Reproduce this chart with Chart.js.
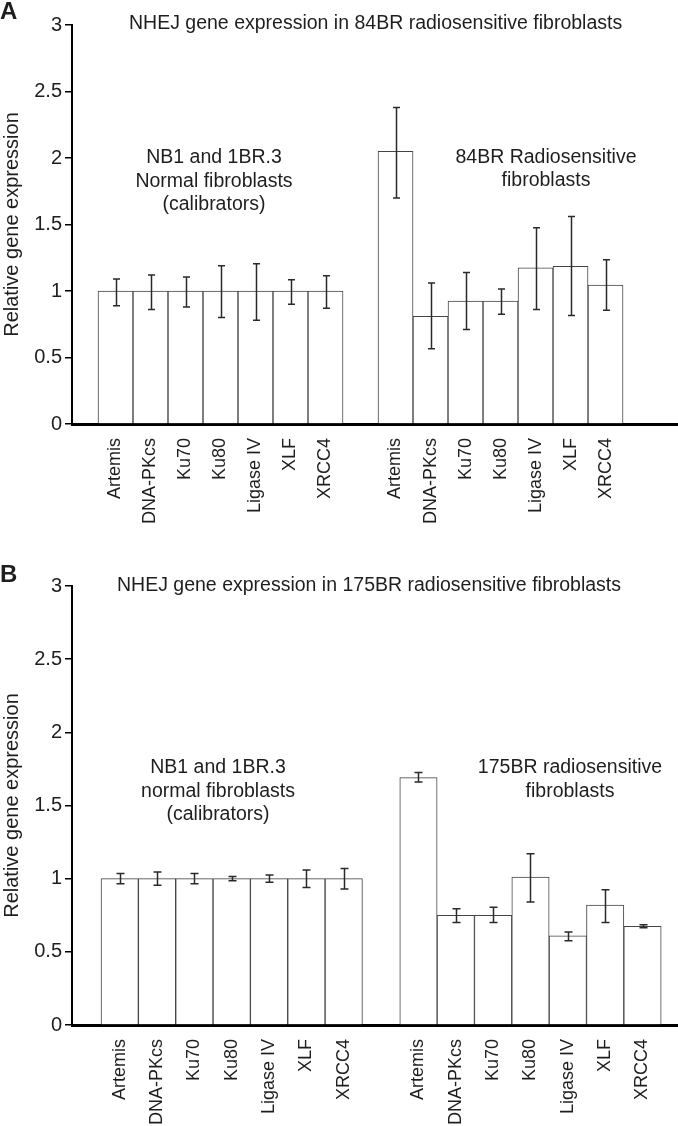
<!DOCTYPE html>
<html><head><meta charset="utf-8">
<script src="https://cdn.jsdelivr.net/npm/chart.js@4/dist/chart.umd.min.js"></script>
<style>
html,body{margin:0;padding:0;background:#fff;}
#wrap{position:relative;width:678px;height:1126px;overflow:hidden;}
.panel{position:absolute;left:0;width:678px;}
</style></head><body>
<div id="wrap">
<div class="panel" style="top:0;height:560px"><canvas id="ca"></canvas></div>
<div class="panel" style="top:560px;height:566px"><canvas id="cb"></canvas></div>
</div>
<script>
// ---- data ----
const genes = ['Artemis','DNA-PKcs','Ku70','Ku80','Ligase IV','XLF','XRCC4'];
const yTicks = [0, 0.5, 1, 1.5, 2, 2.5, 3];

// Panel A: 84BR
const aNormal     = [1, 1, 1, 1, 1, 1, 1];
const aNormalLow  = [0.89, 0.86, 0.88, 0.80, 0.78, 0.90, 0.87];
const aNormalHigh = [1.09, 1.12, 1.105, 1.19, 1.205, 1.085, 1.115];
const aSens       = [2.05, 0.81, 0.925, 0.925, 1.175, 1.185, 1.045];
const aSensLow    = [1.70, 0.565, 0.71, 0.825, 0.86, 0.815, 0.855];
const aSensHigh   = [2.38, 1.06, 1.14, 1.015, 1.475, 1.56, 1.235];

// Panel B: 175BR
const bNormal     = [1, 1, 1, 1, 1, 1, 1];
const bNormalLow  = [0.965, 0.955, 0.965, 0.985, 0.975, 0.94, 0.93];
const bNormalHigh = [1.035, 1.045, 1.035, 1.015, 1.025, 1.06, 1.07];
const bSens       = [1.69, 0.75, 0.75, 1.01, 0.61, 0.82, 0.675];
const bSensLow    = [1.66, 0.70, 0.70, 0.84, 0.575, 0.70, 0.665];
const bSensHigh   = [1.725, 0.795, 0.805, 1.17, 0.635, 0.925, 0.685];

// ---- helpers ----
const FONT = "'Liberation Sans', Arial, Helvetica, sans-serif";
const TXT = '#1e1e1e';
const gap = genes.length + 1;
const positions = genes.map((g, i) => i).concat(genes.map((g, i) => i + gap));
function labelFor(v) {
  const r = Math.round(v);
  if (r >= 0 && r < genes.length) return genes[r];
  if (r >= gap && r < gap + genes.length) return genes[r - gap];
  return '';
}

const errPlugin = {
  id: 'errBars',
  afterDatasetsDraw(chart, args, opts) {
    const ctx = chart.ctx, y = chart.scales.y;
    const meta = chart.getDatasetMeta(0);
    ctx.save();
    ctx.strokeStyle = opts.color; ctx.lineWidth = opts.width;
    meta.data.forEach((bar, i) => {
      const lo = y.getPixelForValue(opts.low[i]), hi = y.getPixelForValue(opts.high[i]);
      const x = Math.round(bar.x) + 0.5, c = opts.cap;
      ctx.beginPath();
      ctx.moveTo(x, lo); ctx.lineTo(x, hi);
      ctx.moveTo(x - c, lo); ctx.lineTo(x + c, lo);
      ctx.moveTo(x - c, hi); ctx.lineTo(x + c, hi);
      ctx.stroke();
    });
    ctx.restore();
  }
};

const textPlugin = {
  id: 'panelText',
  afterDraw(chart, args, opts) {
    const ctx = chart.ctx;
    ctx.save();
    ctx.fillStyle = TXT;
    for (const t of opts.items) {
      ctx.font = t.font;
      ctx.textAlign = t.align || 'center';
      ctx.textBaseline = t.baseline || 'middle';
      t.lines.forEach((ln, i) => ctx.fillText(ln, t.x, t.y + i * (t.lh || 0)));
    }
    ctx.restore();
  }
};

function makePanel(id, p) {
  const data = p.normal.map((v, i) => ({x: i, y: v}))
    .concat(p.sens.map((v, i) => ({x: i + gap, y: v})));
  const low = p.normalLow.concat(p.sensLow);
  const high = p.normalHigh.concat(p.sensHigh);
  new Chart(document.getElementById(id), {
    type: 'bar',
    data: {
      datasets: [{
        data: data,
        backgroundColor: '#ffffff',
        borderColor: '#444444',
        borderWidth: 1,
        barPercentage: 1,
        categoryPercentage: 1
      }]
    },
    options: {
      responsive: true,
      maintainAspectRatio: false,
      animation: false,
      devicePixelRatio: 1,
      layout: {padding: {top: p.top, left: 0, right: 0, bottom: 0}},
      plugins: {
        legend: {display: false},
        tooltip: {enabled: false},
        errBars: {low: low, high: high, color: '#2a2a2a', width: 1.5, cap: p.cap},
        panelText: {items: p.texts}
      },
      scales: {
        x: {
          type: 'linear',
          min: p.xmin, max: p.xmax, bounds: 'data', offset: false,
          afterBuildTicks: s => { s.ticks = positions.map(v => ({value: v})); },
          afterFit: s => { s.height = p.xh; },
          ticks: {
            autoSkip: false, minRotation: 90, maxRotation: 90, padding: 6,
            color: TXT, font: {family: FONT, size: 18},
            callback: v => labelFor(v)
          },
          grid: {display: false},
          border: {display: true, color: '#000', width: 3}
        },
        y: {
          min: 0, max: 3,
          afterBuildTicks: s => { s.ticks = yTicks.map(v => ({value: v})); },
          afterFit: s => { s.width = 72; },
          ticks: {color: TXT, font: {family: FONT, size: 20}, padding: 3, callback: v => String(v)},
          grid: {drawOnChartArea: false, drawTicks: true, tickLength: 7, color: '#000', lineWidth: 1.5},
          border: {display: true, color: '#000', width: 2},
          title: {display: true, text: 'Relative gene expression', color: TXT,
                  font: {family: FONT, size: 20}, padding: {top: 0, bottom: 0}}
        }
      }
    },
    plugins: [errPlugin, textPlugin]
  });
}

const F19 = "19.5px " + FONT;
makePanel('ca', {
  normal: aNormal, normalLow: aNormalLow, normalHigh: aNormalHigh,
  sens: aSens, sensLow: aSensLow, sensHigh: aSensHigh,
  top: 25, xh: 136, xmin: -1.243, xmax: 16.07, cap: 3.5,
  texts: [
    {lines: ['A'], x: 0, y: 0, font: "bold 24px " + FONT, align: 'left', baseline: 'top'},
    {lines: ['NHEJ gene expression in 84BR radiosensitive fibroblasts'], x: 129, y: 24, font: F19, align: 'left'},
    {lines: ['NB1 and 1BR.3', 'Normal fibroblasts', '(calibrators)'], x: 214, y: 158, lh: 23.5, font: F19},
    {lines: ['84BR Radiosensitive', 'fibroblasts'], x: 546, y: 158, lh: 22.5, font: F19}
  ]
});
makePanel('cb', {
  normal: bNormal, normalLow: bNormalLow, normalHigh: bNormalHigh,
  sens: bSens, sensLow: bSensLow, sensHigh: bSensHigh,
  top: 26, xh: 101, xmin: -1.277, xmax: 14.95, cap: 4,
  texts: [
    {lines: ['B'], x: 0, y: 3, font: "bold 24px " + FONT, align: 'left', baseline: 'top'},
    {lines: ['NHEJ gene expression in 175BR radiosensitive fibroblasts'], x: 117, y: 26, font: F19, align: 'left'},
    {lines: ['NB1 and 1BR.3', 'normal fibroblasts', '(calibrators)'], x: 218, y: 208, lh: 23.5, font: F19},
    {lines: ['175BR radiosensitive', 'fibroblasts'], x: 570, y: 208, lh: 23.5, font: F19}
  ]
});
</script>
</body></html>
